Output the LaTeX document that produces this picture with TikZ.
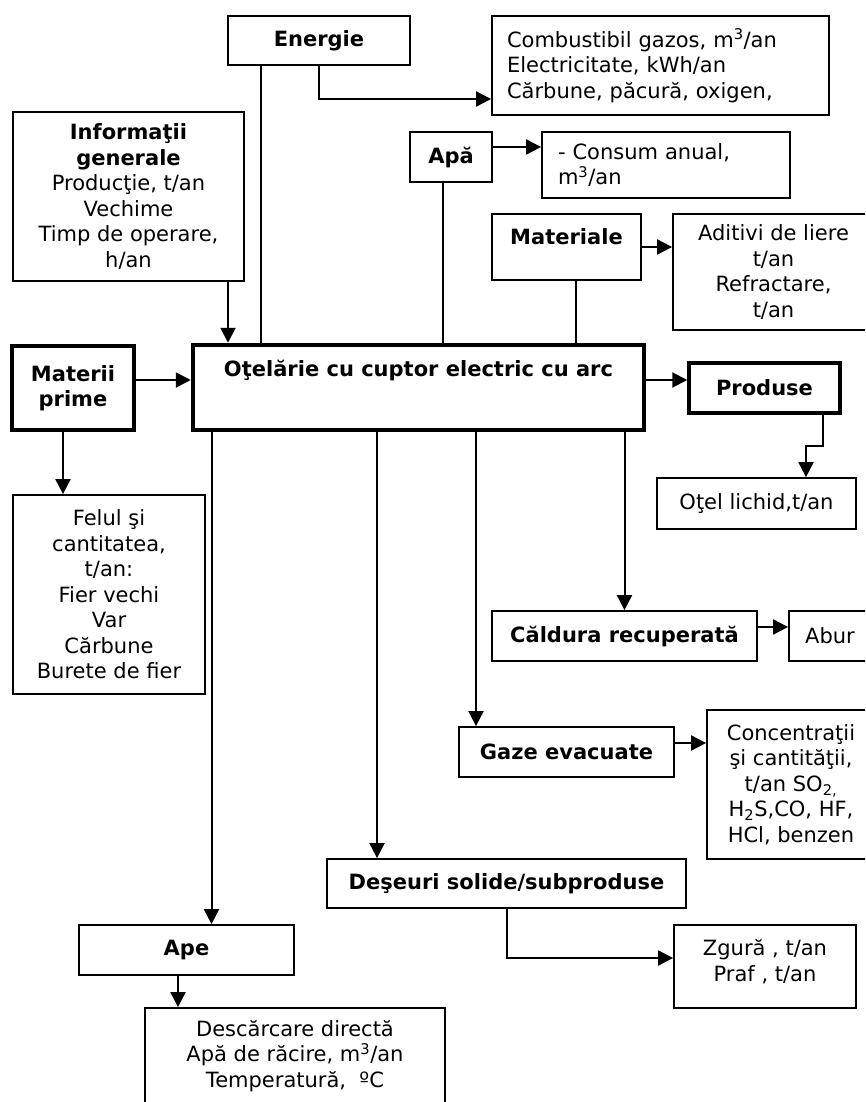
\documentclass[tikz,border=0pt]{standalone}
\usepackage{fontspec}
\setmainfont{DejaVu Sans}
\usetikzlibrary{arrows.meta,calc}
\begin{document}
\begin{tikzpicture}[x=1pt,y=-1pt,
  every node/.style={font=\fontsize{21}{25.5}\selectfont, inner sep=0pt},
  box/.style={draw, line width=1.8pt, align=center},
  thickbox/.style={box, line width=3.5pt},
  mainbox/.style={box, line width=4.5pt},
  conn/.style={line width=2pt},
  arr/.style={conn, -{Triangle[length=15pt,width=15pt]}},
]
\useasboundingbox (0,0) rectangle (865,1102);
\clip (0,0) rectangle (865,1102);

% boxes
\node[box, minimum width=182pt, minimum height=49pt] (energie) at (319,40.5) {\textbf{Energie}};
\node[box, minimum width=231pt, minimum height=169pt] (info) at (128.5,196.5) {\textbf{Informaţii}\\\textbf{generale}\\Producţie, t/an\\Vechime\\Timp de operare,\\h/an};
\node[box, minimum width=337pt, minimum height=99pt, text width=307pt, align=left] (comb) at (660.5,65.5) {Combustibil gazos, m\textsuperscript{3}/an\\Electricitate, kWh/an\\Cărbune, păcură, oxigen,};
\node[box, minimum width=82pt, minimum height=50pt] (apa) at (451,157) {\textbf{Apă}};
\node[box, minimum width=248pt, minimum height=66pt, text width=216pt, align=left] (consum) at (666,165) {- Consum anual,\\m\textsuperscript{3}/an};
\node[box, minimum width=149pt, minimum height=66pt] (materiale) at (566.5,247) {};
\node (materialetext) at (566.5,237) {\textbf{Materiale}};
\node[box, minimum width=201pt, minimum height=116pt] (aditivi) at (773.5,272) {Aditivi de liere\\t/an\\Refractare,\\t/an};
\node[thickbox, minimum width=122pt, minimum height=84pt] (materii) at (73,388) {\textbf{Materii}\\\textbf{prime}};
\node[mainbox, minimum width=451pt, minimum height=85pt] (main) at (418.5,387.5) {};
\node (maintext) at (418.5,370) {\textbf{Oţelărie cu cuptor electric cu arc}};
\node[thickbox, minimum width=151pt, minimum height=50pt] (produse) at (764.5,388) {\textbf{Produse}};
\node[box, minimum width=199pt, minimum height=51pt] (otel) at (756.5,503.5) {Oţel lichid,t/an};
\node[box, minimum width=192pt, minimum height=199pt] (felul) at (109,594.5) {Felul şi\\cantitatea,\\t/an:\\Fier vechi\\Var\\Cărbune\\Burete de fier};
\node[box, minimum width=265pt, minimum height=50pt] (caldura) at (624.5,636) {\textbf{Căldura recuperată}};
\node[box, minimum width=82pt, minimum height=50pt] (abur) at (830,636) {Abur};
\node[box, minimum width=215pt, minimum height=50pt] (gaze) at (566.5,752) {\textbf{Gaze evacuate}};
\node[box, minimum width=168pt, minimum height=149pt] (conc) at (791,784.5) {Concentraţii\\şi cantităţii,\\t/an SO\textsubscript{2,}\\H\textsubscript{2}S,CO, HF,\\HCl, benzen};
\node[box, minimum width=359pt, minimum height=49pt] (deseuri) at (506.5,883.5) {\textbf{Deşeuri solide/subproduse}};
\node[box, minimum width=182pt, minimum height=83pt] (zgura) at (765,966.5) {};
\node[align=center] (zguratext) at (765,961.5) {Zgură , t/an\\Praf , t/an};
\node[box, minimum width=215pt, minimum height=50pt] (ape) at (186.5,950) {\textbf{Ape}};
\node[box, minimum width=300pt, minimum height=96pt] (desc) at (295,1056) {Descărcare directă\\Apă de răcire, m\textsuperscript{3}/an\\Temperatură,~ ºC};

% connectors
\draw[conn] ([xshift=-58pt]energie.south) -- ([xshift=-58pt]energie.south |- main.north);
\draw[arr] (energie.south) |- ([yshift=-33.5pt]comb.west);
\draw[arr] ([xshift=99.5pt]info.south) -- ([xshift=99.5pt]info.south |- main.north);
\draw[conn] ([xshift=-8pt]apa.south) -- ([xshift=-8pt]apa.south |- main.north);
\draw[arr] ([yshift=10pt]apa.east) -- ([yshift=10pt]apa.east -| consum.west);
\draw[conn] ([xshift=9pt]materiale.south) -- ([xshift=9pt]materiale.south |- main.north);
\draw[arr] (materiale.east) -- (materiale.east -| aditivi.west);
\draw[arr] ([yshift=8pt]materii.east) -- ([yshift=8pt]materii.east -| main.west);
\draw[arr] ([xshift=-10pt]materii.south) -- ([xshift=-10pt]materii.south |- felul.north);
\draw[arr] ([yshift=7.5pt]main.east) -- ([yshift=7.5pt]main.east -| produse.west);
\draw[arr] ([xshift=58.5pt]produse.south) -- ++(0,31) -| ([xshift=49.5pt]otel.north);
\draw[arr] (caldura.north |- main.south) -- (caldura.north);
\draw[arr] ([yshift=9pt]caldura.east) -- ([yshift=9pt]caldura.east -| abur.west);
\draw[arr] ([xshift=-90.5pt]gaze.north |- main.south) -- ([xshift=-90.5pt]gaze.north);
\draw[arr] ([yshift=9pt]gaze.east) -- ([yshift=9pt]gaze.east -| conc.west);
\draw[arr] ([xshift=-129.5pt]deseuri.north |- main.south) -- ([xshift=-129.5pt]deseuri.north);
\draw[arr] (deseuri.south) |- ([yshift=8.5pt]zgura.west);
\draw[arr] ([xshift=25pt]ape.north |- main.south) -- ([xshift=25pt]ape.north);
\draw[arr] ([xshift=-8.5pt]ape.south) -- ([xshift=-8.5pt]ape.south |- desc.north);
\end{tikzpicture}
\end{document}
